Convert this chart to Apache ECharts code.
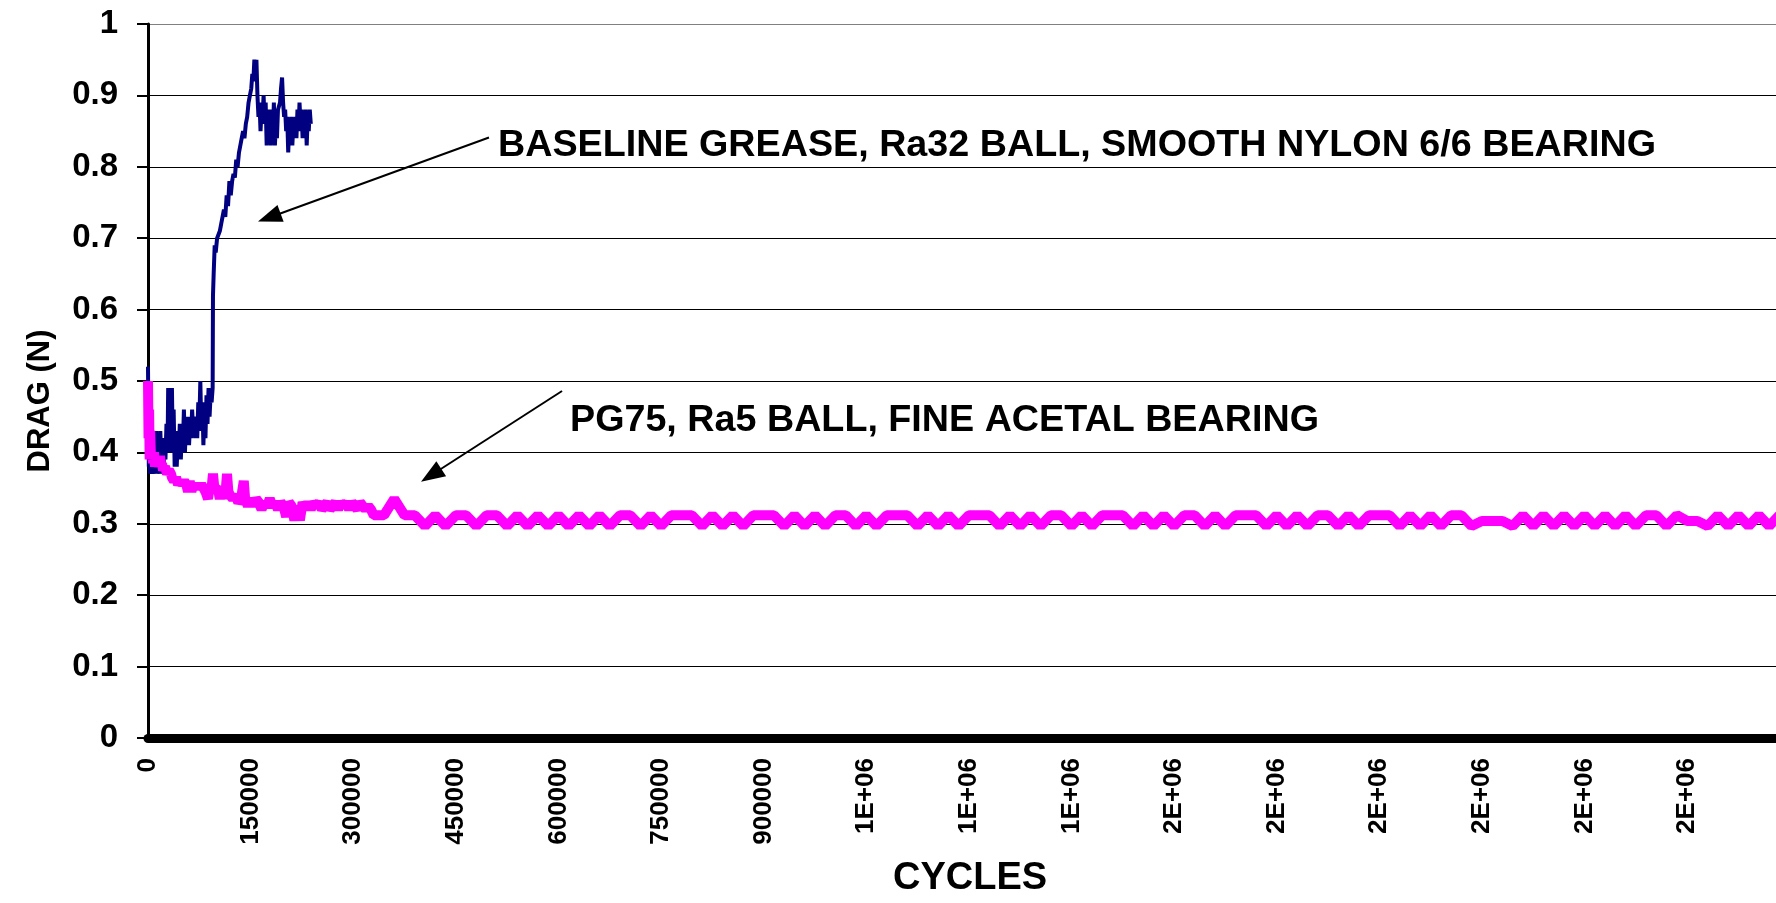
<!DOCTYPE html>
<html>
<head>
<meta charset="utf-8">
<script src="https://cdn.jsdelivr.net/npm/echarts@6/dist/echarts.min.js"></script>
<style>
  html, body { margin: 0; padding: 0; background: #fff; }
  #chart { width: 1776px; height: 903px; }
</style>
</head>
<body>
<div id="chart"></div>
<script>
// y axis ticks (DRAG, N)
var dragTicks = [0, 0.1, 0.2, 0.3, 0.4, 0.5, 0.6, 0.7, 0.8, 0.9, 1];
var cycleStep = 150000;
var cycleMax = 2380000;

// baseline grease, Ra32 ball, smooth nylon 6/6 bearing  [cycles, drag]
var baselineData = [
  [0, 0.52], [600, 0.45], [1200, 0.38], [2000, 0.43], [2900, 0.37], [4000, 0.41], [5200, 0.37],
  [6500, 0.42], [7500, 0.38], [9000, 0.40], [10500, 0.37], [12000, 0.43], [13500, 0.38],
  [15000, 0.40], [16500, 0.37], [18000, 0.43], [19500, 0.39], [21000, 0.41], [22500, 0.37],
  [24000, 0.42], [25500, 0.39], [27000, 0.44], [28500, 0.40], [29500, 0.49], [30500, 0.41],
  [32000, 0.45], [33500, 0.40], [35000, 0.49], [36000, 0.42], [37500, 0.46], [39000, 0.38],
  [40500, 0.43], [42000, 0.38], [43500, 0.42], [45000, 0.40], [46500, 0.44], [48000, 0.39],
  [49500, 0.43], [51000, 0.41], [52500, 0.46], [54000, 0.40], [55500, 0.44], [57000, 0.42],
  [58500, 0.45], [60000, 0.41], [61500, 0.44], [63000, 0.42], [64500, 0.46], [66000, 0.43],
  [67500, 0.45], [69000, 0.42], [70500, 0.44], [72000, 0.42], [73500, 0.47], [75000, 0.44],
  [76500, 0.50], [78000, 0.43], [79500, 0.47], [81000, 0.41], [82500, 0.46], [84000, 0.42],
  [85500, 0.48], [87000, 0.44], [88500, 0.49], [90000, 0.45], [91500, 0.48], [93000, 0.47],
  [94500, 0.49], [95000, 0.62], [96000, 0.65], [97500, 0.69], [99000, 0.68], [101000, 0.70],
  [103000, 0.70], [105000, 0.71], [107000, 0.72], [109000, 0.72], [111000, 0.74], [113000, 0.73],
  [115000, 0.76], [117000, 0.745], [119000, 0.78], [121000, 0.76], [123000, 0.78], [125000, 0.79],
  [127000, 0.785], [129000, 0.81], [131000, 0.80], [133000, 0.82], [135000, 0.82], [137000, 0.84],
  [139000, 0.85], [141000, 0.84], [143000, 0.86], [145000, 0.87], [147000, 0.89], [149000, 0.90],
  [151000, 0.91], [152500, 0.93], [154000, 0.92], [155500, 0.95], [157000, 0.93], [158500, 0.95],
  [160000, 0.90], [161500, 0.87], [163000, 0.89], [164500, 0.85], [166000, 0.88], [167500, 0.87],
  [169000, 0.90], [170500, 0.86], [172000, 0.89], [173500, 0.83], [175000, 0.87], [176500, 0.84],
  [178000, 0.88], [179500, 0.83], [181000, 0.87], [182500, 0.84], [184000, 0.89], [185500, 0.83],
  [187000, 0.86], [188500, 0.84], [190000, 0.88], [191500, 0.88], [193000, 0.89], [194500, 0.91],
  [196000, 0.925], [197500, 0.89], [199000, 0.87], [200500, 0.88], [202000, 0.85], [203500, 0.87],
  [205000, 0.82], [206500, 0.86], [208000, 0.84], [209500, 0.87], [211000, 0.83], [212500, 0.86],
  [214000, 0.85], [215500, 0.87], [217000, 0.84], [218500, 0.88], [220000, 0.85], [221500, 0.89],
  [223000, 0.86], [224500, 0.88], [226000, 0.84], [227500, 0.87], [229000, 0.85], [230500, 0.88],
  [232000, 0.83], [233500, 0.87], [235000, 0.85], [236500, 0.88], [238000, 0.86]
];

// PG75, Ra5 ball, fine acetal bearing: first part  [cycles, drag]
var pg75Head = [
  [0, 0.50], [800, 0.42], [1600, 0.46], [2400, 0.39], [3200, 0.43], [4400, 0.39], [5800, 0.40],
  [7300, 0.385], [8800, 0.40], [10300, 0.38], [11700, 0.39], [13200, 0.385], [14600, 0.39],
  [16100, 0.38], [17500, 0.395], [19000, 0.38], [20500, 0.385], [21900, 0.375], [24900, 0.38],
  [27800, 0.37], [30700, 0.375], [33600, 0.37], [35000, 0.365], [38000, 0.36], [41000, 0.365],
  [44000, 0.355], [47000, 0.36], [50000, 0.355], [53000, 0.36], [56000, 0.355], [58500, 0.345],
  [61000, 0.36], [63500, 0.345], [66000, 0.355], [68700, 0.35], [72000, 0.355], [75000, 0.35],
  [78000, 0.355], [81000, 0.35], [84000, 0.345], [87700, 0.335], [90000, 0.35], [93000, 0.35],
  [95000, 0.37], [97000, 0.35], [100000, 0.35], [103000, 0.345], [105000, 0.335], [108000, 0.35],
  [111000, 0.345], [112600, 0.335], [115500, 0.37], [117500, 0.345], [120000, 0.34], [124000, 0.335],
  [128000, 0.34], [132000, 0.33], [136000, 0.335], [140000, 0.36], [142000, 0.335], [146000, 0.325],
  [150000, 0.335], [154000, 0.325], [158000, 0.335], [162000, 0.33], [166000, 0.32], [170000, 0.33],
  [174000, 0.325], [178000, 0.335], [182000, 0.325], [186000, 0.33], [190000, 0.32], [194000, 0.33],
  [198000, 0.325], [202000, 0.31], [206000, 0.33], [210000, 0.325], [214000, 0.305], [218000, 0.325],
  [222000, 0.305], [226000, 0.33], [230000, 0.32], [234000, 0.33], [238000, 0.32], [242000, 0.33],
  [246000, 0.325], [250000, 0.33], [254000, 0.32], [258000, 0.325], [262000, 0.33], [266000, 0.32],
  [270000, 0.325], [274000, 0.33], [278000, 0.32], [282000, 0.33], [286000, 0.325], [290000, 0.33],
  [294000, 0.32], [298000, 0.33], [302000, 0.325], [306000, 0.32], [310000, 0.33], [314000, 0.325],
  [318000, 0.32], [322000, 0.325], [326000, 0.32], [330000, 0.312]
];

// PG75 long flat part, logged every 15000 cycles from 345000
var pg75TailStart = 345000;
var pg75TailStep = 15000;
var pg75Tail = [
  0.312, 0.335, 0.312, 0.312, 0.297, 0.312, 0.297, 0.312, 0.312, 0.297,
  0.312, 0.312, 0.297, 0.312, 0.297, 0.312, 0.297, 0.312, 0.297, 0.312,
  0.297, 0.312, 0.297, 0.312, 0.312, 0.297, 0.312, 0.297, 0.312, 0.312,
  0.312, 0.297, 0.312, 0.297, 0.312, 0.297, 0.312, 0.312, 0.312, 0.297,
  0.312, 0.297, 0.312, 0.297, 0.312, 0.312, 0.297, 0.312, 0.297, 0.312,
  0.312, 0.312, 0.297, 0.312, 0.297, 0.312, 0.297, 0.312, 0.312, 0.312,
  0.297, 0.312, 0.297, 0.312, 0.297, 0.312, 0.312, 0.297, 0.312, 0.297,
  0.312, 0.312, 0.312, 0.297, 0.312, 0.297, 0.312, 0.297, 0.312, 0.312,
  0.297, 0.312, 0.297, 0.312, 0.312, 0.312, 0.297, 0.312, 0.297, 0.312,
  0.297, 0.312, 0.312, 0.297, 0.312, 0.297, 0.312, 0.312, 0.312, 0.297,
  0.312, 0.297, 0.312, 0.297, 0.312, 0.312, 0.297, 0.304, 0.304, 0.304,
  0.297, 0.312, 0.297, 0.312, 0.297, 0.312, 0.297, 0.312, 0.297, 0.312,
  0.297, 0.312, 0.297, 0.312, 0.312, 0.297, 0.312, 0.304, 0.304, 0.297,
  0.312, 0.297, 0.312, 0.297, 0.312, 0.297, 0.312
];

// annotation arrows: [line start, arrowhead centre] in [cycles, drag]
var arrowBaseline = [[498500, 0.841], [177300, 0.729]];
var arrowPg75 = [[605300, 0.486], [413900, 0.368]];

var labelBaseline = 'BASELINE GREASE, Ra32 BALL, SMOOTH NYLON 6/6 BEARING';
var labelPg75 = 'PG75, Ra5 BALL, FINE ACETAL BEARING';

var pg75Data = pg75Head.concat(pg75Tail.map(function (v, i) {
  return [pg75TailStart + i * pg75TailStep, v];
}));

var FONT = '"Liberation Sans", Arial, sans-serif';

// Excel "General" style: big numbers squeezed to 1E+06 / 2E+06
function cycleLabel(v) {
  if (v >= 1000000) return Math.round(v / 1000000) + 'E+06';
  return String(v);
}

var gridColors = dragTicks.map(function (t) { return t === 1 ? '#808080' : '#000000'; });

var chart = echarts.init(document.getElementById('chart'), null, { renderer: 'canvas' });

var option = {
  animation: false,
  backgroundColor: '#ffffff',
  grid: { left: 148, right: 0, top: 24, bottom: 163, containLabel: false },
  xAxis: {
    type: 'value',
    min: 0,
    max: cycleMax,
    interval: cycleStep,
    offset: 4,
    name: 'CYCLES',
    nameLocation: 'middle',
    nameGap: 118,
    nameMoveOverlap: false,
    nameTextStyle: { fontFamily: FONT, fontWeight: 'bold', fontSize: 38, color: '#000', padding: [0, 0, 0, 16] },
    axisLine: { show: true, lineStyle: { color: '#000', width: 9 } },
    axisTick: { show: false },
    splitLine: { show: false },
    axisLabel: {
      rotate: 90,
      margin: 16,
      showMaxLabel: false,
      fontFamily: FONT,
      fontWeight: 'bold',
      fontSize: 26,
      color: '#000',
      formatter: cycleLabel
    }
  },
  yAxis: {
    type: 'value',
    min: 0,
    max: 1,
    interval: 0.1,
    name: 'DRAG (N)',
    nameLocation: 'middle',
    nameGap: 92,
    nameMoveOverlap: false,
    nameTextStyle: { fontFamily: FONT, fontWeight: 'bold', fontSize: 31, color: '#000', padding: [0, 40, 0, 0] },
    axisLine: { show: true, lineStyle: { color: '#000', width: 3 } },
    axisTick: { show: true, inside: false, length: 11, lineStyle: { color: '#000', width: 2 } },
    splitLine: { show: true, lineStyle: { color: gridColors, width: 1 } },
    axisLabel: {
      margin: 30,
      fontFamily: FONT,
      fontWeight: 'bold',
      fontSize: 33,
      color: '#000',
      formatter: function (v) { return String(Math.round(v * 10) / 10); }
    }
  },
  series: [
    {
      name: labelBaseline,
      type: 'line',
      data: baselineData,
      showSymbol: false,
      symbol: 'none',
      lineStyle: { color: '#000080', width: 4 },
      z: 3,
      markLine: {
        silent: true,
        symbol: ['none', 'triangle'],
        symbolSize: [18, 24],
        label: { show: false },
        lineStyle: { color: '#000', width: 2, type: 'solid' },
        data: [
          [{ coord: arrowBaseline[0] }, { coord: arrowBaseline[1] }],
          [{ coord: arrowPg75[0] }, { coord: arrowPg75[1] }]
        ]
      }
    },
    {
      name: labelPg75,
      type: 'line',
      data: pg75Data,
      showSymbol: false,
      symbol: 'none',
      lineStyle: { color: '#FF00FF', width: 10 },
      z: 4
    }
  ],
  graphic: [
    {
      type: 'text',
      x: 498,
      y: 146,
      style: { text: labelBaseline, font: 'bold 37.7px ' + FONT, fill: '#000', verticalAlign: 'middle' }
    },
    {
      type: 'text',
      x: 570,
      y: 421,
      style: { text: labelPg75, font: 'bold 37.7px ' + FONT, fill: '#000', verticalAlign: 'middle' }
    }
  ]
};

chart.setOption(option);
</script>
</body>
</html>
